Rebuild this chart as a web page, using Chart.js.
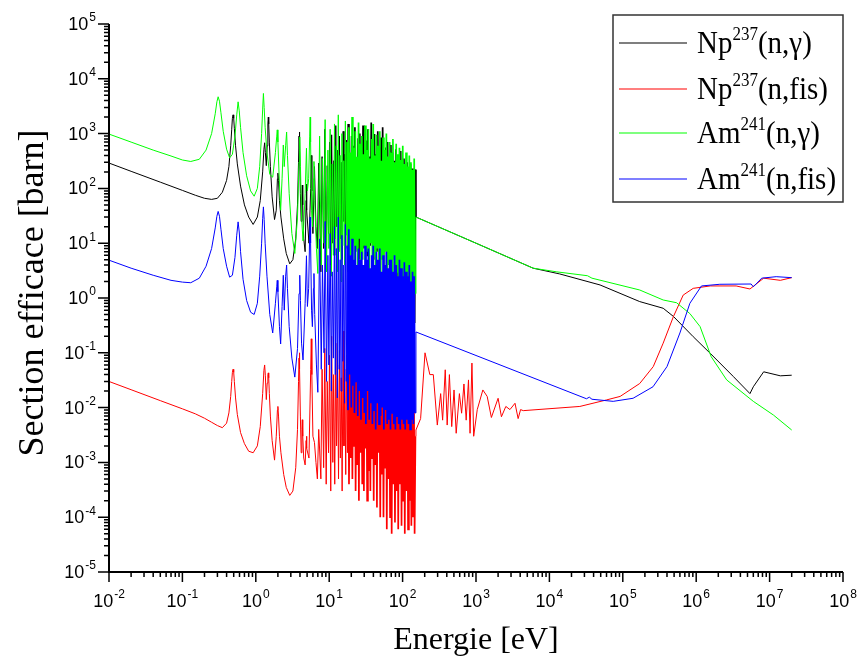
<!DOCTYPE html>
<html>
<head>
<meta charset="utf-8">
<script src="https://cdn.jsdelivr.net/npm/chart.js@4.4.1/dist/chart.umd.min.js"></script>
<style>
  html, body { margin: 0; padding: 0; background: #fff; }
  #wrap { width: 860px; height: 659px; }
</style>
</head>
<body>
<div id="wrap"><canvas id="xsChart" width="860" height="659"></canvas></div>
<script>
// ---- data (energies in eV, cross sections in barn) ----
const xDecades = [-2, -1, 0, 1, 2, 3, 4, 5, 6, 7, 8];
const yDecades = [-5, -4, -3, -2, -1, 0, 1, 2, 3, 4, 5];

const legendBase = ['Np', 'Np', 'Am', 'Am'];
const legendSup = ['237', '237', '241', '241'];
const legendRest = ['(n,\u03b3)', '(n,fis)', '(n,\u03b3)', '(n,fis)'];

// Np-237, resolved low energy resonances
const npLowE = [0.01, 0.02, 0.05, 0.1, 0.15, 0.2, 0.25, 0.3, 0.35, 0.4,
  0.43, 0.455, 0.47, 0.48, 0.49, 0.50, 0.51, 0.53, 0.56, 0.62,
  0.7, 0.8, 0.92, 1.05, 1.15, 1.24, 1.29, 1.32, 1.35, 1.39,
  1.43, 1.46, 1.48, 1.50, 1.53, 1.58, 1.67, 1.8, 1.9, 1.97,
  2.0, 2.04, 2.1, 2.2, 2.4, 2.6, 2.9, 3.2, 3.5, 3.7,
  3.82, 3.88, 3.92, 3.97, 4.05, 4.15, 4.25, 4.3, 4.36, 4.5,
  4.7, 4.85, 4.9, 4.97, 5.3, 5.6, 5.7, 5.8, 6.0, 6.3,
  6.6, 6.9, 7.2];
const npCapLow = [290, 205, 130, 92, 75, 66, 63, 66, 85, 140,
  250, 600, 1200, 1900, 2200, 1900, 1250, 600, 280, 110,
  50, 30, 22, 30, 60, 200, 520, 680, 450, 260,
  600, 1500, 2000, 1500, 700, 250, 70, 27, 40, 150,
  190, 140, 60, 30, 12, 6.5, 4.2, 5, 12, 50,
  300, 900, 1070, 500, 80, 25, 70, 115, 50, 12,
  7, 60, 120, 40, 10, 100, 400, 90, 15, 250,
  20, 8, 290];
const npFisLow = [0.030, 0.0212, 0.0134, 0.0095, 0.0077, 0.0064, 0.0054, 0.0047, 0.0043, 0.0052,
  0.008, 0.016, 0.03, 0.044, 0.050, 0.044, 0.03, 0.015, 0.0075, 0.0035,
  0.0022, 0.0016, 0.0015, 0.0020, 0.0045, 0.018, 0.048, 0.060, 0.038, 0.014,
  0.028, 0.040, 0.043, 0.035, 0.018, 0.007, 0.0025, 0.0011, 0.003, 0.009,
  0.0105, 0.007, 0.003, 0.0015, 0.0006, 0.00035, 0.00025, 0.0003, 0.0008, 0.004,
  0.03, 0.08, 0.1, 0.05, 0.007, 0.0015, 0.004, 0.006, 0.003, 0.0012,
  0.0009, 0.0025, 0.003, 0.0018, 0.0012, 0.05, 0.18, 0.04, 0.003, 0.0023,
  0.001, 0.0005, 0.004];

// Np-237, dense resonance region up to ~150 eV
const npDenseE = [7.7, 8.0, 8.4, 8.7, 9.1, 9.4, 9.8, 10.1, 10.5, 10.8,
  11.2, 11.5, 11.9, 12.3, 12.6, 13.0, 13.4, 13.8, 14.2, 14.6,
  15.0, 15.5, 15.9, 16.3, 16.8, 17.2, 17.7, 18.2, 18.6, 19.1,
  19.6, 20.2, 20.7, 21.2, 21.8, 22.4, 22.9, 23.5, 24.2, 24.8,
  25.4, 26.1, 26.8, 27.5, 28.2, 28.9, 29.7, 30.4, 31.2, 32.0,
  32.9, 33.7, 34.6, 35.5, 36.4, 37.4, 38.3, 39.3, 40.4, 41.4,
  42.5, 43.6, 44.7, 45.9, 47.1, 48.3, 49.6, 50.9, 52.2, 53.5,
  54.9, 56.4, 57.8, 59.3, 60.9, 62.5, 64.1, 65.8, 67.5, 69.2,
  71.0, 72.9, 74.8, 76.7, 78.7, 80.8, 82.9, 85.0, 87.2, 89.5,
  91.8, 94.2, 96.7, 99.2, 101.8, 104.4, 107.1, 109.9, 112.8, 115.7,
  118.7, 121.8, 125.0, 128.2, 131.6, 135.0, 138.5, 142.1, 145.8, 149.6];
const npCapDense = [3, 380, 8, 1200, 5, 260, 15, 700, 4, 950,
  10, 320, 6, 1400, 20, 500, 7, 900, 12, 300,
  5, 1100, 25, 420, 8, 760, 14, 1500, 6, 350,
  18, 900, 9, 600, 30, 1300, 7, 280, 16, 820,
  5, 1000, 22, 450, 10, 1400, 8, 520, 28, 750,
  6, 1200, 15, 380, 9, 1600, 20, 650, 5, 980,
  12, 420, 7, 1100, 25, 560, 4, 850, 14, 1300,
  6, 380, 18, 560, 3, 700, 10, 300, 5, 620,
  2, 450, 12, 320, 1.5, 520, 6, 260, 1, 400,
  8, 480, 0.7, 240, 4, 350, 0.5, 220, 2.5, 300,
  0.4, 200, 5, 280, 0.3, 230, 1.5, 180, 0.35, 220];
const npFisDense = [0.0005, 0.05, 0.0008, 0.12, 0.0004, 0.03, 0.0015, 0.09, 0.0003, 0.2,
  0.001, 0.04, 0.0004, 0.15, 0.002, 0.06, 0.0005, 0.11, 0.0012, 0.035,
  0.0003, 0.25, 0.002, 0.05, 0.0006, 0.09, 0.0015, 0.4, 0.0004, 0.06,
  0.0012, 0.15, 0.0005, 0.07, 0.002, 0.5, 0.0003, 0.04, 0.0009, 0.18,
  0.0002, 0.9, 0.0015, 0.06, 0.0004, 0.3, 0.0003, 0.08, 0.0018, 0.13,
  0.0002, 1.5, 0.0007, 0.05, 0.0003, 0.6, 0.0012, 0.09, 0.0002, 0.2,
  0.0009, 0.06, 0.00015, 0.35, 0.0015, 0.07, 0.0001, 0.12, 0.0006, 0.8,
  0.0001, 0.05, 0.0008, 0.18, 0.00006, 0.09, 0.0005, 0.04, 0.0001, 0.25,
  0.00005, 0.07, 0.0004, 0.15, 0.00008, 0.05, 0.0003, 0.11, 0.00006, 0.04,
  0.0004, 0.2, 0.00007, 0.06, 0.0002, 0.1, 0.00005, 0.05, 0.0003, 0.15,
  0.00006, 0.04, 0.0002, 0.08, 0.00007, 0.05, 0.0001, 0.06, 0.00005, 0.003];

// Np-237 above the resonance region
const npCapHighE = [152, 1000, 6000, 13800, 49000, 170000, 355000, 490000, 910000, 1.55e6,
  3.2e6, 5.4e6, 6.0e6, 8.3e6, 1.4e7, 2.0e7];
const npCapHigh = [30, 10, 3.5, 2.75, 1.73, 0.86, 0.65, 0.46, 0.197, 0.098,
  0.037, 0.018, 0.024, 0.045, 0.038, 0.039];
const npFisHighE = [152, 176, 202, 235, 262, 297, 330, 351, 381, 405,
  434, 467, 502, 537, 594, 637, 685, 735, 790, 830,
  880, 930, 1040, 1240, 1420, 1620, 2000, 2220, 2550, 2900,
  3400, 3750, 4050, 4400, 26000, 60000, 92000, 170000, 260000, 355000,
  490000, 665000, 910000, 1.55e6, 3.5e6, 5.4e6, 8.3e6, 1.4e7, 2.0e7];
const npFisHigh = [0.0039, 0.0063, 0.1, 0.04, 0.04, 0.0048, 0.018, 0.0059, 0.049, 0.0048,
  0.04, 0.0045, 0.021, 0.0034, 0.018, 0.0079, 0.027, 0.0059, 0.032, 0.0034,
  0.065, 0.003, 0.0092, 0.021, 0.016, 0.0066, 0.0148, 0.0068, 0.0105, 0.0092,
  0.012, 0.0063, 0.0092, 0.0088, 0.0105, 0.0138, 0.016, 0.0275, 0.056, 0.15,
  0.46, 1.13, 1.5, 1.66, 1.66, 1.46, 2.3, 2.1, 2.35];

// Am-241, resolved low energy resonances
const amLowE = [0.01, 0.02, 0.04, 0.07, 0.1, 0.13, 0.17, 0.21, 0.25, 0.28,
  0.295, 0.307, 0.32, 0.335, 0.36, 0.4, 0.44, 0.48, 0.52, 0.55,
  0.574, 0.595, 0.62, 0.67, 0.75, 0.85, 0.95, 1.05, 1.13, 1.2,
  1.24, 1.27, 1.30, 1.34, 1.42, 1.55, 1.7, 1.85, 1.93, 1.96,
  2.0, 2.1, 2.18, 2.28, 2.37, 2.44, 2.55, 2.63, 2.7, 2.85,
  3.1, 3.4, 3.7, 3.88, 3.97, 4.06, 4.2, 4.4, 4.7, 4.9,
  5.05, 5.25, 5.42, 5.5, 5.58, 5.75, 5.9, 6.1, 6.2, 6.35,
  6.7, 7.0];
const amCapLow = [980, 700, 500, 390, 330, 310, 340, 500, 1000, 2300,
  3800, 4700, 3900, 2400, 1100, 520, 360, 420, 900, 2200,
  3800, 2600, 1300, 450, 170, 90, 72, 100, 250, 1000,
  2800, 5400, 3000, 1300, 450, 180, 160, 450, 900, 1170,
  700, 120, 40, 150, 620, 250, 600, 1070, 400, 80,
  15, 6.5, 30, 300, 870, 250, 30, 11, 80, 540,
  90, 150, 900, 2000, 700, 40, 20, 150, 310, 60,
  8, 2.8];
const amFisLow = [4.9, 3.5, 2.6, 2.1, 1.95, 1.9, 2.3, 3.8, 8, 19,
  31, 38, 31, 18, 8, 3.8, 2.4, 2.6, 5.5, 14,
  24.5, 16, 7, 2.2, 0.9, 0.55, 0.5, 0.8, 2.5, 10,
  28, 46, 27, 10, 2.5, 0.5, 0.23, 0.8, 1.6, 2.1,
  1.3, 0.3, 0.145, 0.7, 2.6, 0.6, 2.5, 4, 1.5, 0.3,
  0.08, 0.036, 0.12, 1.2, 2.6, 0.9, 0.15, 0.074, 0.8, 5.9,
  0.7, 1.5, 15, 30, 10, 0.6, 0.3, 1.5, 2.8, 0.5,
  0.06, 0.019];

// Am-241, dense resonance region up to ~150 eV
const amDenseE = [7.4, 7.8, 8.1, 8.5, 8.8, 9.2, 9.6, 9.9, 10.3, 10.7,
  11.0, 11.4, 11.8, 12.1, 12.5, 12.9, 13.3, 13.7, 14.1, 14.5,
  14.9, 15.3, 15.8, 16.2, 16.6, 17.1, 17.5, 18.0, 18.5, 19.0,
  19.5, 20.0, 20.5, 21.0, 21.6, 22.1, 22.7, 23.3, 23.9, 24.5,
  25.1, 25.8, 26.5, 27.1, 27.8, 28.6, 29.3, 30.1, 30.8, 31.6,
  32.5, 33.3, 34.2, 35.1, 36.0, 36.9, 37.9, 38.8, 39.8, 40.9,
  41.9, 43.0, 44.1, 45.3, 46.5, 47.7, 48.9, 50.2, 51.5, 52.9,
  54.2, 55.6, 57.1, 58.6, 60.1, 61.7, 63.3, 64.9, 66.6, 68.4,
  70.1, 72.0, 73.8, 75.7, 77.7, 79.7, 81.8, 83.9, 86.1, 88.3,
  90.6, 93.0, 95.4, 97.9, 100.5, 103.1, 105.7, 108.5, 111.3, 114.2,
  117.2, 120.2, 123.4, 126.6, 129.9, 133.3, 136.7, 140.3, 143.9, 147.7];
const amCapDense = [900, 4, 350, 10, 1800, 3, 500, 8, 1200, 2.5,
  280, 6, 1500, 12, 600, 3, 2200, 7, 400, 2,
  1000, 9, 320, 4, 1700, 14, 700, 3, 1300, 6,
  450, 2.5, 2000, 10, 550, 4, 1100, 8, 380, 3,
  1600, 12, 650, 2, 900, 5, 420, 9, 1400, 3,
  500, 7, 1200, 2.5, 350, 10, 800, 4, 1500, 6,
  400, 2, 950, 8, 600, 3, 1100, 1.5, 320, 5,
  850, 2.5, 500, 7, 1000, 1.2, 380, 4, 700, 2,
  450, 1, 800, 5, 300, 1.5, 650, 3, 420, 0.9,
  550, 2, 330, 1.2, 600, 0.8, 280, 2.5, 450, 1,
  250, 1.5, 400, 0.8, 300, 2, 220, 0.9, 350, 1.2];
const amFisDense = [12, 0.05, 4, 0.1, 25, 0.03, 6, 0.06, 15, 0.02,
  3, 0.08, 20, 0.04, 8, 0.015, 30, 0.05, 5, 0.02,
  14, 0.07, 4, 0.012, 22, 0.03, 9, 0.009, 18, 0.04,
  6, 0.01, 12, 0.025, 5, 0.008, 9, 0.03, 4, 0.007,
  8, 0.02, 5, 0.006, 7, 0.015, 4, 0.008, 9, 0.005,
  5, 0.02, 8, 0.006, 3.5, 0.012, 6, 0.005, 9, 0.009,
  4, 0.004, 7, 0.012, 5, 0.005, 8, 0.007, 3, 0.01,
  6, 0.004, 4, 0.009, 7, 0.005, 3.5, 0.006, 5, 0.004,
  5, 0.008, 3, 0.005, 6, 0.004, 4, 0.007, 2.5, 0.005,
  5, 0.004, 3.5, 0.006, 2.5, 0.005, 4.5, 0.004, 3, 0.006,
  2.5, 0.005, 4, 0.004, 2, 0.006, 3, 0.005, 2.5, 0.008];

// Am-241 above the resonance region
const amCapHighE = [152, 1000, 6000, 12600, 33000, 38000, 170000, 355000, 540000, 820000,
  1.13e6, 1.6e6, 2.6e6, 6.0e6, 1.13e7, 2.0e7];
const amCapHigh = [30, 10, 3.5, 3.0, 2.55, 2.3, 1.4, 0.92, 0.82, 0.52,
  0.30, 0.085, 0.032, 0.013, 0.0073, 0.0039];
const amFisHighE = [152, 32000, 35000, 38000, 74000, 138000, 258000, 400000, 600000, 820000,
  1.18e6, 2.1e6, 5.6e6, 6.0e6, 7.8e6, 1.23e7, 2.0e7];
const amFisHigh = [0.24, 0.0145, 0.0155, 0.0142, 0.013, 0.0148, 0.024, 0.056, 0.23, 0.8,
  1.66, 1.78, 1.8, 1.6, 2.3, 2.45, 2.35];

// ---- helpers ----
function toPoints(E, V) {
  return E.map((e, i) => ({ x: e, y: V[i] }));
}

const SERIF = '"Liberation Serif", "Times New Roman", Times, serif';
const SANS = '"Liberation Sans", Arial, Helvetica, sans-serif';

function buildLogTicks(decades) {
  const ticks = [];
  decades.forEach((d, i) => {
    ticks.push({ value: Math.pow(10, d), major: true });
    if (i < decades.length - 1) {
      for (let k = 2; k <= 9; k++) ticks.push({ value: k * Math.pow(10, d), major: false });
    }
  });
  return ticks;
}

// draws "10" with a raised exponent
function drawPower(ctx, exp, x, y, align) {
  const base = '10';
  ctx.font = '18px ' + SANS;
  const bw = ctx.measureText(base).width;
  ctx.font = '12px ' + SANS;
  const sw = ctx.measureText(exp).width;
  const total = bw + 1 + sw;
  const x0 = align === 'center' ? x - total / 2 : x - total;
  ctx.textAlign = 'left';
  ctx.textBaseline = 'middle';
  ctx.font = '18px ' + SANS;
  ctx.fillText(base, x0, y);
  ctx.font = '12px ' + SANS;
  ctx.fillText(exp, x0 + bw + 1, y - 7);
}

const axesPlugin = {
  id: 'originAxes',
  afterDraw(chart) {
    const ctx = chart.ctx;
    const xs = chart.scales.x;
    const ys = chart.scales.y;
    const a = chart.chartArea;
    ctx.save();
    ctx.strokeStyle = '#000';
    ctx.fillStyle = '#000';

    // tick marks (outside)
    ctx.lineWidth = 1.5;
    ctx.beginPath();
    xs.ticks.forEach(t => {
      const px = xs.getPixelForValue(t.value);
      ctx.moveTo(px, a.bottom);
      ctx.lineTo(px, a.bottom + (t.major ? 10 : 5));
    });
    ys.ticks.forEach(t => {
      const py = ys.getPixelForValue(t.value);
      ctx.moveTo(a.left, py);
      ctx.lineTo(a.left - (t.major ? 11 : 5), py);
    });
    ctx.stroke();

    // axis lines
    ctx.lineWidth = 2;
    ctx.beginPath();
    ctx.moveTo(a.left, a.top);
    ctx.lineTo(a.left, a.bottom);
    ctx.lineTo(a.right, a.bottom);
    ctx.stroke();

    // tick labels
    xDecades.forEach(d => {
      drawPower(ctx, String(d), xs.getPixelForValue(Math.pow(10, d)), a.bottom + 30, 'center');
    });
    yDecades.forEach(d => {
      drawPower(ctx, String(d), a.left - 13, ys.getPixelForValue(Math.pow(10, d)) + 1, 'right');
    });

    // axis titles
    ctx.textAlign = 'center';
    ctx.textBaseline = 'middle';
    ctx.font = '32px ' + SERIF;
    ctx.fillText('Energie [eV]', (a.left + a.right) / 2, 641);
    ctx.save();
    ctx.translate(34, 293);
    ctx.rotate(-Math.PI / 2);
    ctx.font = '36px ' + SERIF;
    ctx.fillText('Section efficace [barn]', 0, 0);
    ctx.restore();

    // legend
    const bx = 613, by = 15, bw = 230, bh = 187;
    ctx.fillStyle = '#fff';
    ctx.fillRect(bx, by, bw, bh);
    ctx.strokeStyle = '#333';
    ctx.lineWidth = 1.5;
    ctx.strokeRect(bx, by, bw, bh);
    const rowY = [43, 89, 133, 179];
    chart.data.datasets.forEach((ds, i) => {
      const ly = rowY[i];
      ctx.strokeStyle = ds.borderColor;
      ctx.lineWidth = 1.2;
      ctx.beginPath();
      ctx.moveTo(619, ly);
      ctx.lineTo(687, ly);
      ctx.stroke();
      ctx.fillStyle = '#000';
      ctx.textAlign = 'left';
      ctx.textBaseline = 'alphabetic';
      ctx.save();
      ctx.translate(697, ly + 10);
      ctx.scale(1, 1.1);
      ctx.font = '29px ' + SERIF;
      ctx.fillText(legendBase[i], 0, 0);
      let w = ctx.measureText(legendBase[i]).width;
      ctx.font = '17px ' + SERIF;
      ctx.fillText(legendSup[i], w, -12);
      w += ctx.measureText(legendSup[i]).width;
      ctx.font = '29px ' + SERIF;
      ctx.fillText(legendRest[i], w, 0);
      ctx.restore();
    });
    ctx.restore();
  }
};

// the crowded part of the resonance band is drawn a little heavier
const lineStyle = {
  borderWidth: 1,
  pointRadius: 0,
  tension: 0,
  fill: false,
  segment: {
    borderWidth: c => (c.p0.parsed.x >= 18 && c.p1.parsed.x <= 150) ? 1.7 : 1
  }
};

new Chart(document.getElementById('xsChart'), {
  type: 'line',
  data: {
    datasets: [
      Object.assign({
        label: 'Np237(n,\u03b3)', borderColor: '#000000', order: 3,
        data: toPoints(npLowE.concat(npDenseE, npCapHighE), npCapLow.concat(npCapDense, npCapHigh))
      }, lineStyle),
      Object.assign({
        label: 'Np237(n,fis)', borderColor: '#ff0000', order: 2,
        data: toPoints(npLowE.concat(npDenseE, npFisHighE), npFisLow.concat(npFisDense, npFisHigh))
      }, lineStyle),
      Object.assign({
        label: 'Am241(n,\u03b3)', borderColor: '#00ff00', order: 1,
        data: toPoints(amLowE.concat(amDenseE, amCapHighE), amCapLow.concat(amCapDense, amCapHigh))
      }, lineStyle),
      Object.assign({
        label: 'Am241(n,fis)', borderColor: '#0000ff', order: 0,
        data: toPoints(amLowE.concat(amDenseE, amFisHighE), amFisLow.concat(amFisDense, amFisHigh))
      }, lineStyle)
    ]
  },
  options: {
    responsive: false,
    animation: false,
    events: [],
    layout: { padding: { left: 0, right: 17, top: 24, bottom: 0 } },
    scales: {
      x: {
        type: 'logarithmic',
        position: 'bottom',
        min: 1e-2,
        max: 1e8,
        grid: { display: false },
        border: { display: false },
        ticks: { display: false },
        afterBuildTicks: scale => { scale.ticks = buildLogTicks(xDecades); },
        afterFit: scale => { scale.height = 87; }
      },
      y: {
        type: 'logarithmic',
        position: 'left',
        min: 1e-5,
        max: 1e5,
        grid: { display: false },
        border: { display: false },
        ticks: { display: false },
        afterBuildTicks: scale => { scale.ticks = buildLogTicks(yDecades); },
        afterFit: scale => { scale.width = 109; }
      }
    },
    plugins: {
      legend: { display: false },
      tooltip: { enabled: false }
    }
  },
  plugins: [axesPlugin]
});
</script>
</body>
</html>
